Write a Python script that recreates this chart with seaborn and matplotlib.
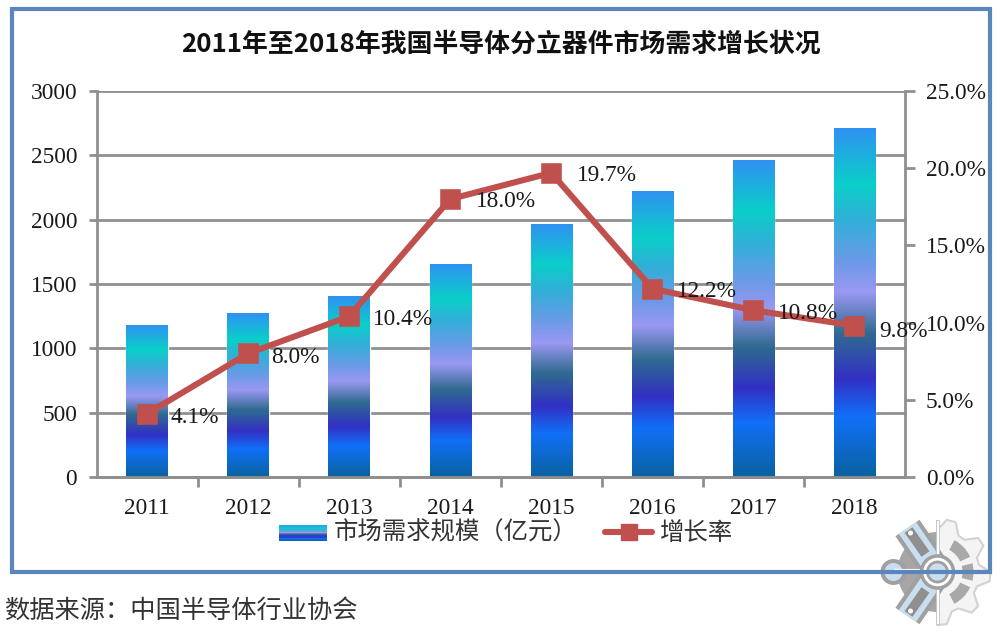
import numpy as np
import matplotlib
matplotlib.use('Agg')
import matplotlib.pyplot as plt
import seaborn as sns
from matplotlib.colors import LinearSegmentedColormap
from matplotlib.legend_handler import HandlerBase
from matplotlib.lines import Line2D
from matplotlib.patches import Circle, Patch, Polygon, Rectangle, Wedge

sns.set_theme(style='white')
plt.rcParams['font.family'] = ['Liberation Serif', 'Noto Sans CJK SC', 'DejaVu Sans']

years = ['2011', '2012', '2013', '2014', '2015', '2016', '2017', '2018']
demand = [1180, 1270, 1405, 1655, 1965, 2220, 2460, 2710]
growth = [4.1, 8.0, 10.4, 18.0, 19.7, 12.2, 10.8, 9.8]
left_ticks = [0, 500, 1000, 1500, 2000, 2500, 3000]
right_ticks = [0, 5, 10, 15, 20, 25]

title = '2011年至2018年我国半导体分立器件市场需求增长状况'
source = '数据来源：中国半导体行业协会'
bar_name = '市场需求规模（亿元）'
line_name = '增长率'

GRAY = '#8f8f8f'
RED = '#c0504d'
TEXT = '#1a1a1a'
CJK = ['Noto Sans CJK SC', 'DejaVu Sans']

# bar fill from the bottom of each bar to the top
grad = LinearSegmentedColormap.from_list('bar', [
    (0.00, '#0a62a0'), (0.17, '#1070f8'), (0.28, '#3230c4'), (0.41, '#2f6a90'),
    (0.53, '#9a98f2'), (0.62, '#6a9ae8'), (0.74, '#30b0d8'), (0.84, '#0acfc9'),
    (1.00, '#2f92f2')])


class GradientHandler(HandlerBase):
    def create_artists(self, legend, orig, x, y, w, h, fontsize, trans):
        strips = []
        n = 14
        for i in range(n):
            r = Rectangle((x, y + h * i / n), w, h / n + 0.2, transform=trans,
                          color=grad((i + 0.5) / n), lw=0)
            strips.append(r)
        return strips


fig = plt.figure(figsize=(10, 6.34), dpi=100)
ax = fig.add_axes([0.0965, 1 - 477 / 634, 0.8085, 386 / 634])

sns.barplot(x=years, y=demand, ax=ax, width=0.41, color='white', saturation=1, zorder=2)
ax.set_ylim(0, 3000)
gradient = np.linspace(1, 0, 256).reshape(-1, 1)
for bar in ax.patches:
    ax.imshow(gradient, cmap=grad, aspect='auto', zorder=3,
              extent=[bar.get_x(), bar.get_x() + bar.get_width(), 0, bar.get_height()])
ax.set_xlim(-0.5, 7.5)
ax.set_ylim(0, 3000)

ax.set_yticks(left_ticks)
ax.set_xticks(np.arange(0.5, 7.5), minor=True)
ax.set_xticks(range(len(years)))
ax.set_xticklabels(years)
ax.tick_params(axis='x', which='major', length=0, pad=15, labelsize=16.8, labelcolor=TEXT)
ax.tick_params(axis='x', which='minor', length=7, width=2, color=GRAY, bottom=True)
ax.tick_params(axis='y', length=6, width=2, color=GRAY, left=True, pad=8, labelsize=16.8, labelcolor=TEXT)
ax.yaxis.grid(True, color=GRAY, lw=2)
ax.set_axisbelow(True)

ax2 = ax.twinx()
sns.pointplot(x=years, y=growth, ax=ax2, color=RED, markers='s', markersize=12,
              linewidth=4.4, errorbar=None, zorder=5)
ax2.set_xlim(-0.5, 7.5)
ax2.set_ylim(0, 25)
ax2.set_yticks(right_ticks)
ax2.set_yticklabels([f'{t:.1f}%' for t in right_ticks])
ax2.tick_params(axis='y', length=7, width=2, color=GRAY, right=True, pad=8, labelsize=16.8, labelcolor=TEXT)
ax2.grid(False)
ax2.set_xlabel('')
ax2.set_ylabel('')

for a in (ax, ax2):
    for s in a.spines.values():
        s.set_visible(False)
    a.spines['bottom'].set_visible(True)
    a.spines['bottom'].set_color(GRAY)
    a.spines['bottom'].set_linewidth(2)
ax.spines['left'].set_visible(True)
ax.spines['left'].set_color(GRAY)
ax.spines['left'].set_linewidth(2)
ax2.spines['right'].set_visible(True)
ax2.spines['right'].set_color(GRAY)
ax2.spines['right'].set_linewidth(2)

# offsets of the value labels from their points, in points
label_dx = [34, 34, 39, 40, 40, 39, 39, 35]
label_dy = [-3, -3, -2, -2, -2, -2, -2, -4]
for i, g in enumerate(growth):
    ax2.annotate(f'{g:.1f}%', (i, g), xytext=(label_dx[i], label_dy[i]),
                 textcoords='offset points', ha='center', va='center',
                 fontsize=16.8, color=TEXT, zorder=6)

handles = [Patch(label=bar_name),
           Line2D([0], [0], color=RED, lw=4.4, marker='s', markersize=12, label=line_name)]
fig.legend(handles=handles, loc='center', bbox_to_anchor=(0.506, 1 - 533 / 634),
           bbox_transform=fig.transFigure, ncol=2, frameon=False,
           prop={'family': CJK, 'size': 17.6}, labelcolor='#333333',
           handler_map={Patch: GradientHandler()}, handlelength=1.95, handletextpad=0.3,
           columnspacing=1.1, borderpad=0, handleheight=0.6)

# pixel overlay for the frame, heading, source and watermark
top = fig.add_axes([0, 0, 1, 1], zorder=10)
top.set_xlim(0, 1000)
top.set_ylim(634, 0)
top.axis('off')
top.patch.set_alpha(0)

top.text(501, 44, title, ha='center', va='center', fontsize=18.6, fontweight='bold',
         family=CJK, color='#111111')
top.text(4, 611, source, ha='left', va='center', fontsize=18.2, family=CJK, color='#333333')

# watermark gear
cx, cy = 937.5, 572
n_teeth = 9
angles = np.linspace(-90, 90, 4 * n_teeth // 2 + 1)
pts = [(cx, cy - 52)]
for i, a in enumerate(angles):
    r = 53 if i % 4 in (1, 2) else 42
    pts.append((cx + r * np.cos(np.radians(a)), cy + r * np.sin(np.radians(a))))
pts.append((cx, cy + 52))
top.add_patch(Polygon(pts, closed=True, fc='#f4f4f4', ec='#d2d2d2', lw=1.5, zorder=1))
for a0, a1 in [(-62, -25), (-14, 14), (25, 62)]:
    top.add_patch(Wedge((cx, cy), 36, a0, a1, width=11, fc='#a8a8a8', ec='none', zorder=2))
top.add_patch(Wedge((cx, cy), 40, 90, 270, fc='#a6a6a6', ec='none', zorder=1))


def band(x0, y0, x1, y1, width, color):
    top.plot([x0, x1], [y0, y1], color=color, lw=width, solid_capstyle='butt', zorder=2)


for sign in (-1, 1):
    ex, ey = cx - 30, cy + sign * 44
    band(cx, cy, ex, ey, 21, '#a0a0a0')
    band(cx - 2, cy + sign * 3, ex, ey, 15, '#c9dff0')
    band(cx - 12, cy + sign * 18, ex + 1, ey - sign * 2, 7, '#8f8f8f')
    top.add_patch(Circle((ex + 3, ey - sign * 5), 2.5, fc='white', ec='none', zorder=3))
top.add_patch(Circle((cx - 44, cy), 13, fc='#a0a0a0', ec='none', zorder=2))
top.add_patch(Circle((cx - 44, cy), 9, fc='#c9dff0', ec='none', zorder=2))
band(cx - 44, cy - 1, cx - 6, cy - 1, 3, '#ffffff')
top.add_patch(Rectangle((cx - 2, cy - 52), 3, 104, fc='white', ec='#c0c0c0', lw=0.6, zorder=3))
top.add_patch(Circle((cx, cy), 16, fc='white', ec='#a0a0a0', lw=2.5, zorder=4))
top.add_patch(Circle((cx, cy), 10, fc='#c9dff0', ec='#a0a0a0', lw=2, zorder=5))

# outer frame stays visible through the watermark
top.add_patch(Rectangle((12, 9), 978, 563, fc='none', ec='#5b86bd', lw=3, zorder=8))

fig.savefig('out.png', dpi=100, facecolor='white')
